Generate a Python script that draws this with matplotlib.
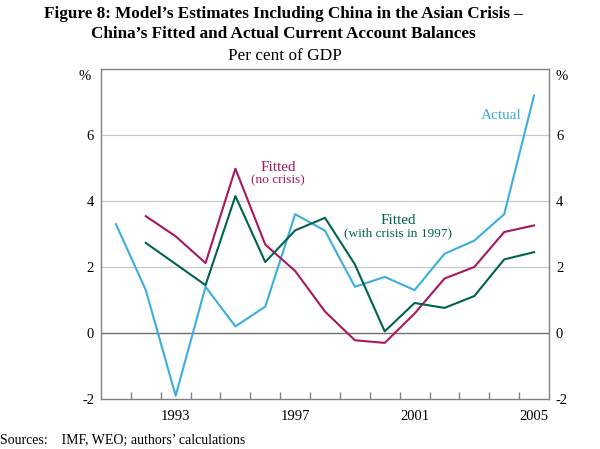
import matplotlib
matplotlib.use('Agg')
import matplotlib.pyplot as plt
from matplotlib.ticker import FixedLocator

plt.rcParams['font.family'] = ['Liberation Serif', 'DejaVu Serif']

years = list(range(1991, 2006))
actual = [3.3, 1.3, -1.9, 1.4, 0.2, 0.8, 3.6, 3.1, 1.4, 1.7, 1.3, 2.4, 2.8, 3.6, 7.2]
fit_years = list(range(1992, 2006))
fitted_no_crisis = [3.54, 2.93, 2.12, 4.98, 2.68, 1.88, 0.65, -0.22, -0.3, 0.59, 1.65, 2.0, 3.06, 3.26]
fitted_crisis = [2.73, 2.09, 1.45, 4.15, 2.15, 3.11, 3.49, 2.08, 0.05, 0.91, 0.76, 1.12, 2.23, 2.45]

year_labels = [1993, 1997, 2001, 2005]
y_ticks = [-2, 0, 2, 4, 6]

c_actual = '#3aaedf'
c_nocrisis = '#a8175f'
c_crisis = '#00634e'
frame = '#808080'

fig = plt.figure(figsize=(6, 4.49), dpi=100)
ax = fig.add_axes([101 / 600, 1 - 399 / 449, 448 / 600, 330 / 449])

for y in [2, 4, 6]:
    ax.axhline(y, color='#c8c8c8', lw=0.9, zorder=1)
ax.axhline(0, color='#707070', lw=1.0, zorder=1)

ax.plot(years, actual, color=c_actual, lw=1.5, zorder=3)
ax.plot(fit_years, fitted_no_crisis, color=c_nocrisis, lw=1.5, zorder=3)
ax.plot(fit_years, fitted_crisis, color=c_crisis, lw=1.5, zorder=3)

ax.set_xlim(1990.5, 2005.5)
ax.set_ylim(-2, 8)

ax.xaxis.set_major_locator(FixedLocator(year_labels))
ax.xaxis.set_minor_locator(FixedLocator([y + 0.5 for y in range(1991, 2005)]))
ax.set_xticklabels([str(y) for y in year_labels])
ax.tick_params(axis='x', which='major', length=0, labelsize=10.5, pad=8)
ax.tick_params(axis='x', which='minor', length=5, direction='in', color=frame, width=1)

ax.set_yticks(y_ticks)
ax.set_yticklabels([str(v) for v in y_ticks])
ax.tick_params(axis='y', length=0, labelsize=10.5, pad=5, labelleft=True, labelright=True)

for s in ax.spines.values():
    s.set_color(frame)
    s.set_linewidth(1.0)

ax.text(-0.036, 0.977, '%', transform=ax.transAxes, ha='center', va='center', fontsize=10.5)
ax.text(1.028, 0.977, '%', transform=ax.transAxes, ha='center', va='center', fontsize=10.5)

ax.text(2003.9, 6.6, 'Actual', color=c_actual, ha='center', va='center', fontsize=11)
ax.text(1996.43, 5.03, 'Fitted', color=c_nocrisis, ha='center', va='center', fontsize=11)
ax.text(1996.43, 4.63, '(no crisis)', color=c_nocrisis, ha='center', va='center', fontsize=9.6)
ax.text(2000.45, 3.41, 'Fitted', color=c_crisis, ha='center', va='center', fontsize=11)
ax.text(2000.45, 3.02, '(with crisis in 1997)', color=c_crisis, ha='center', va='center', fontsize=9.6)

fig.text(283 / 600, 1 - 14 / 449, "Figure 8: Model\u2019s Estimates Including China in the Asian Crisis \u2013",
         ha='center', va='center', fontsize=12.3, fontweight='bold')
fig.text(283 / 600, 1 - 34 / 449, "China\u2019s Fitted and Actual Current Account Balances",
         ha='center', va='center', fontsize=12.3, fontweight='bold')
fig.text(285 / 600, 1 - 56 / 449, 'Per cent of GDP', ha='center', va='center', fontsize=12.4)
fig.text(0, 1 - 440 / 449, 'Sources:    IMF, WEO; authors\u2019 calculations', ha='left', va='center', fontsize=10)

fig.savefig('out.png', dpi=100)
